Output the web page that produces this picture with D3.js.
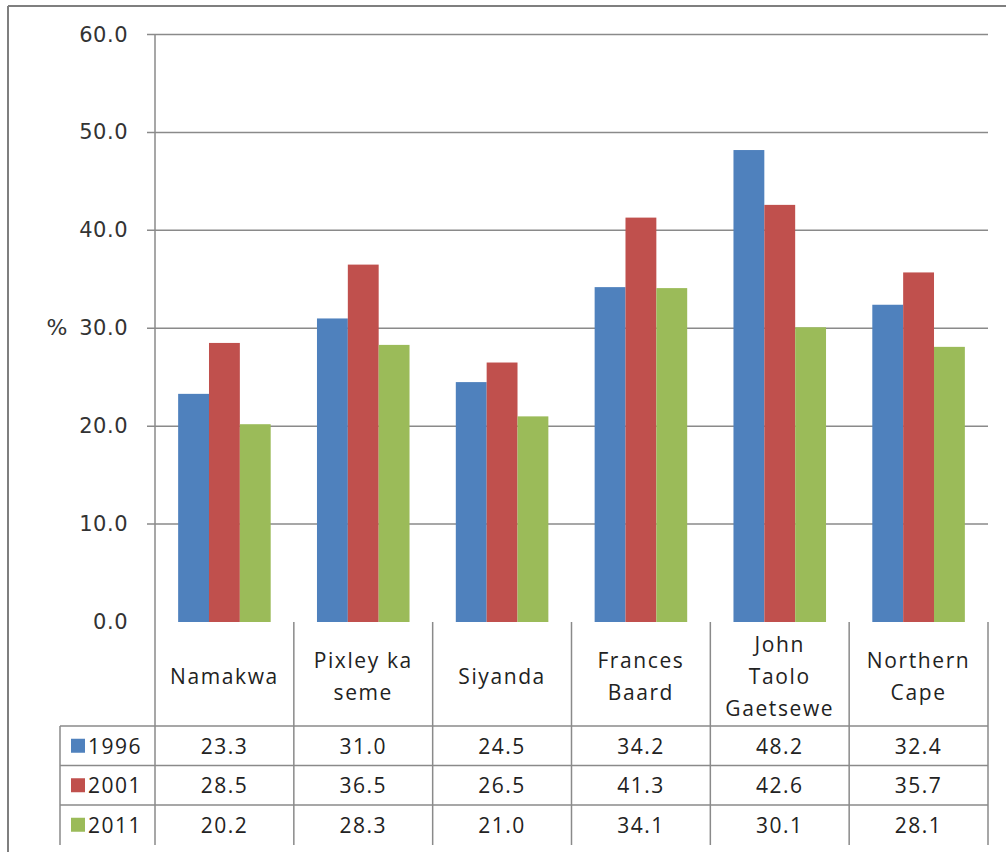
<!DOCTYPE html>
<html lang="en">
<head>
  <meta charset="UTF-8">
  <title>Northern Cape</title>
  <style>
    body { margin: 0; background: #fff; }
  </style>
</head>
<body>

  <svg id="svg" width="1006" height="852"></svg>

  <script src="https://d3js.org/d3.v7.min.js"></script>
  <script>

    const districts = [['Namakwa'], ['Pixley ka', 'seme'], ['Siyanda'], ['Frances', 'Baard'], ['John', 'Taolo', 'Gaetsewe'], ['Northern', 'Cape']]
    const years = ['1996', '2001', '2011']
    const values1996 = [23.3, 31.0, 24.5, 34.2, 48.2, 32.4]
    const values2001 = [28.5, 36.5, 26.5, 41.3, 42.6, 35.7]
    const values2011 = [20.2, 28.3, 21.0, 34.1, 30.1, 28.1]
    const yTicks = [0, 10, 20, 30, 40, 50, 60]

    const series = [values1996, values2001, values2011]
    const colors = ['#4f81bd', '#c0504d', '#9bbb59']
    const lineColor = '#8a8a8a'

    const svg = d3.select('#svg')

    // outer frame (only left and top edges are visible)
    svg.append('line').attr('x1', 8).attr('y1', 6).attr('x2', 1006).attr('y2', 6)
      .attr('stroke', '#7f7f7f').attr('stroke-width', 2)
    svg.append('line').attr('x1', 8).attr('y1', 6).attr('x2', 8).attr('y2', 852)
      .attr('stroke', '#7f7f7f').attr('stroke-width', 2)

    const left = 155, right = 988
    const yScale = d3.scaleLinear()
        .domain([0, 60])
        .range([622, 34.5])

    const xScale = d3.scaleBand()
        .domain(d3.range(districts.length))
        .range([left, right])

    const inner = d3.scaleBand()
        .domain(d3.range(years.length))
        .range([0, xScale.bandwidth()])
        .paddingOuter(0.75)
        .paddingInner(0)

    // gridlines + ticks
    svg.append('g')
      .selectAll('line')
      .data(yTicks.filter(d => d > 0))
      .enter()
      .append('line')
      .attr('x1', left - 8)
      .attr('x2', right)
      .attr('y1', d => yScale(d))
      .attr('y2', d => yScale(d))
      .attr('stroke', lineColor)
      .attr('stroke-width', 1.5)

    svg.append('g')
      .selectAll('text')
      .data(yTicks)
      .enter()
      .append('text')
      .attr('x', 128)
      .attr('y', d => yScale(d) + 7)
      .attr('text-anchor', 'end')
      .attr('font-family', 'DejaVu Sans')
      .attr('font-size', 21)
      .attr('letter-spacing', 0.5)
      .attr('fill', '#333')
      .text(d => d.toFixed(1))

    svg.append('text')
      .attr('x', 57)
      .attr('y', yScale(30) + 7)
      .attr('text-anchor', 'middle')
      .attr('font-family', 'DejaVu Sans')
      .attr('font-size', 22)
      .attr('fill', '#333')
      .text('%')

    // bars
    series.forEach((vals, s) => {
      svg.append('g')
        .selectAll('rect')
        .data(vals)
        .enter()
        .append('rect')
        .attr('x', (d, i) => xScale(i) + inner(s))
        .attr('width', inner.bandwidth())
        .attr('y', d => yScale(d))
        .attr('height', d => yScale(0) - yScale(d))
        .attr('fill', colors[s])
    })

    // data table
    const headTop = 622, headBottom = 726, rowH = 39.5, tableBottom = 845
    const tableLeft = 60

    // value axis line
    svg.append('line').attr('x1', left).attr('x2', left).attr('y1', 34.5).attr('y2', tableBottom)
      .attr('stroke', lineColor).attr('stroke-width', 1.5)

    svg.append('g')
      .selectAll('line')
      .data(d3.range(1, districts.length + 1))
      .enter()
      .append('line')
      .attr('x1', i => xScale(i) === undefined ? right : xScale(i))
      .attr('x2', i => xScale(i) === undefined ? right : xScale(i))
      .attr('y1', headTop)
      .attr('y2', tableBottom)
      .attr('stroke', lineColor)
      .attr('stroke-width', 1.5)

    svg.append('line').attr('x1', tableLeft).attr('x2', tableLeft).attr('y1', headBottom).attr('y2', tableBottom)
      .attr('stroke', lineColor).attr('stroke-width', 1.5)

    svg.append('g')
      .selectAll('line')
      .data(d3.range(3))
      .enter()
      .append('line')
      .attr('x1', tableLeft)
      .attr('x2', right)
      .attr('y1', r => headBottom + r * rowH)
      .attr('y2', r => headBottom + r * rowH)
      .attr('stroke', lineColor)
      .attr('stroke-width', 1.5)

    const tableFont = 'Open Sans'

    // category labels
    districts.forEach((lines, i) => {
      const cx = xScale(i) + xScale.bandwidth() / 2
      const lh = 32
      const y0 = (headTop + headBottom) / 2 + 3 - (lines.length - 1) * lh / 2
      svg.append('text')
        .attr('text-anchor', 'middle')
        .attr('font-family', tableFont)
        .attr('font-size', 21)
        .attr('letter-spacing', 1.6)
        .attr('fill', '#222')
        .selectAll('tspan')
        .data(lines)
        .enter()
        .append('tspan')
        .attr('x', cx)
        .attr('y', (d, k) => y0 + k * lh + 7)
        .text(d => d)
    })

    // rows
    series.forEach((vals, s) => {
      const cy = headBottom + s * rowH + rowH / 2
      svg.append('rect')
        .attr('x', 71).attr('y', cy - 7).attr('width', 14).attr('height', 14)
        .attr('fill', colors[s])
      svg.append('text')
        .attr('x', 88).attr('y', cy + 8)
        .attr('font-family', tableFont)
        .attr('font-size', 21)
        .attr('letter-spacing', 1.5)
        .attr('fill', '#222')
        .text(years[s])
      svg.append('g')
        .selectAll('text')
        .data(vals)
        .enter()
        .append('text')
        .attr('x', (d, i) => xScale(i) + xScale.bandwidth() / 2)
        .attr('y', cy + 8)
        .attr('text-anchor', 'middle')
        .attr('font-family', tableFont)
        .attr('font-size', 21)
        .attr('letter-spacing', 1.5)
        .attr('fill', '#222')
        .text(d => d.toFixed(1))
    })

  </script>
</body>
</html>
